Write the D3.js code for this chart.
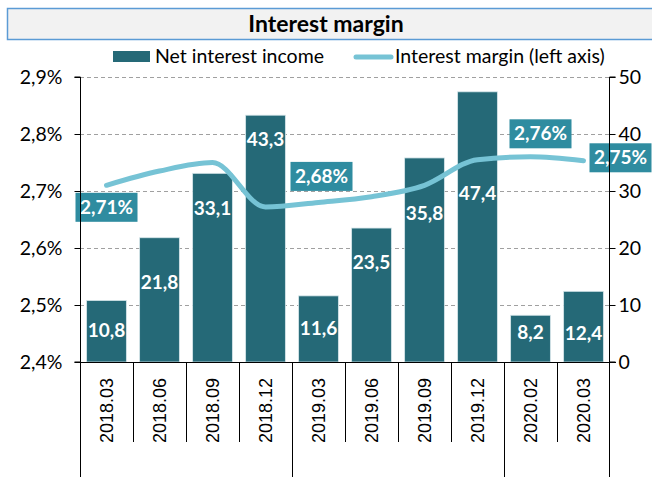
<!DOCTYPE html>
<html>
<head>
<meta charset="utf-8">
<script src="https://cdn.jsdelivr.net/npm/d3@7"></script>
<style>
  body { margin: 0; background: #fff; }
  svg { display: block; font-family: Lato, "Open Sans", sans-serif; }
</style>
</head>
<body>
<svg id="chart" width="652" height="477"></svg>
<script>
const categories = ["2018.03", "2018.06", "2018.09", "2018.12", "2019.03", "2019.06", "2019.09", "2019.12", "2020.02", "2020.03"];
const netInterestIncome = [10.8, 21.8, 33.1, 43.3, 11.6, 23.5, 35.8, 47.4, 8.2, 12.4];
const interestMargin = [2.71, 2.735, 2.75, 2.672, 2.68, 2.69, 2.71, 2.755, 2.76, 2.753];
const marginLabelled = [0, 4, 8, 9];
const leftTicks = [2.4, 2.5, 2.6, 2.7, 2.8, 2.9];
const rightTicks = [0, 10, 20, 30, 40, 50];

const barColor = "#256977";
const lineColor = "#76c3d5";
const boxColor = "#2f8ca0";

const svg = d3.select("#chart");
const fmt = v => d3.format(".2f")(v).replace(".", ",");
const fmt1 = v => d3.format(".1f")(v).replace(".", ",");

const plotLeft = 80, plotRight = 610, plotTop = 77, plotBottom = 362;

const x = d3.scaleBand().domain(categories).range([plotLeft, plotRight])
  .paddingInner(0.25).paddingOuter(0.125);
const yL = d3.scaleLinear().domain([2.4, 2.9]).range([plotBottom, plotTop]);
const yR = d3.scaleLinear().domain([0, 50]).range([plotBottom, plotTop]);

// title box
svg.append("rect")
  .attr("x", 7.5).attr("y", 8.5).attr("width", 660).attr("height", 31)
  .style("fill", "#f2f2f2").style("stroke", "#5b9bd5").style("stroke-width", 1.5);
svg.append("text")
  .text("Interest margin")
  .attr("x", 326).attr("y", 32)
  .attr("text-anchor", "middle")
  .style("font-size", "23px").style("font-weight", "bold").style("fill", "#000");

// legend
const legend = svg.append("g");
legend.append("rect").attr("x", 113).attr("y", 51).attr("width", 37).attr("height", 11)
  .style("fill", barColor);
legend.append("text").text("Net interest income")
  .attr("x", 155).attr("y", 63).style("font-size", "19.5px").style("fill", "#000");
legend.append("line").attr("x1", 356).attr("x2", 391).attr("y1", 57).attr("y2", 57)
  .style("stroke", lineColor).style("stroke-width", 5).style("stroke-linecap", "round");
legend.append("text").text("Interest margin (left axis)")
  .attr("x", 395).attr("y", 63).style("font-size", "19.5px").style("fill", "#000");

// gridlines
svg.append("g").selectAll("line")
  .data(leftTicks.filter(t => t > 2.4))
  .join("line")
  .attr("x1", plotLeft).attr("x2", plotRight)
  .attr("y1", d => Math.round(yL(d)) + 0.5).attr("y2", d => Math.round(yL(d)) + 0.5)
  .style("stroke", "#a0a0a0").style("stroke-dasharray", "4,3");

// bars
svg.append("g").selectAll("rect")
  .data(netInterestIncome)
  .join("rect")
  .attr("x", (d, i) => x(categories[i]))
  .attr("y", d => yR(d))
  .attr("width", x.bandwidth())
  .attr("height", d => plotBottom - yR(d))
  .style("fill", barColor)
  .style("stroke", "#d6e6ea").style("stroke-width", 0.8);

// bar labels (moved by hand in the original, offsets from the bar top)
const barLabelShift = [30, 45, 35, 24, 33, 34, 56, 102, 17, 42];
svg.append("g").selectAll("text")
  .data(netInterestIncome)
  .join("text")
  .text(d => fmt1(d))
  .attr("x", (d, i) => x(categories[i]) + x.bandwidth() / 2)
  .attr("y", (d, i) => yR(d) + barLabelShift[i] + 6.5)
  .attr("text-anchor", "middle")
  .style("fill", "#fff").style("font-size", "19px").style("font-weight", "bold");

// margin line
const line = d3.line()
  .x((d, i) => x(categories[i]) + x.bandwidth() / 2)
  .y(d => yL(d))
  .curve(d3.curveMonotoneX);
svg.append("path")
  .datum(interestMargin)
  .attr("d", line)
  .style("fill", "none").style("stroke", lineColor)
  .style("stroke-width", 5).style("stroke-linecap", "round").style("stroke-linejoin", "round");

// margin labels
const boxShift = { 0: [0, 22], 4: [3, -26], 8: [10, -23], 9: [37, -3] };
marginLabelled.forEach(i => {
  const cx = x(categories[i]) + x.bandwidth() / 2 + boxShift[i][0];
  const cy = yL(interestMargin[i]) + boxShift[i][1];
  const g = svg.append("g").attr("transform", "translate(" + cx + "," + cy + ")");
  g.append("rect").attr("x", -31).attr("y", -14.5).attr("width", 62).attr("height", 29)
    .style("fill", boxColor);
  g.append("text").text(fmt(interestMargin[i]) + "%")
    .attr("y", 6.5).attr("text-anchor", "middle")
    .style("fill", "#fff").style("font-size", "19px").style("font-weight", "bold");
});

// left axis
const axL = svg.append("g").attr("transform", "translate(" + (plotLeft + 0.5) + ",0)")
  .call(d3.axisLeft(yL).tickValues(leftTicks).tickSize(6).tickPadding(12)
    .tickFormat(d => d3.format(".1f")(d).replace(".", ",") + "%"));
axL.selectAll("text").style("font-size", "19.5px").style("font-family", "Lato, sans-serif").style("fill", "#000");
axL.select(".domain").attr("d", "M-6," + plotTop + "H0V" + plotBottom + "H-6");

// right axis
const axR = svg.append("g").attr("transform", "translate(" + (plotRight - 0.5) + ",0)")
  .call(d3.axisRight(yR).tickValues(rightTicks).tickSize(6).tickPadding(3));
axR.selectAll("text").style("font-size", "19.5px").style("font-family", "Lato, sans-serif").style("fill", "#000");
axR.select(".domain").attr("d", "M6," + plotTop + "H0V" + plotBottom + "H6");

// bottom axis with two level categories
const xa = svg.append("g");
xa.append("line").attr("x1", plotLeft).attr("x2", plotRight + 6)
  .attr("y1", plotBottom + 0.5).attr("y2", plotBottom + 0.5).style("stroke", "#000");
const edge = c => x(c) - x.step() * x.paddingInner() / 2;
categories.forEach((c, i) => {
  if (i === 0) return;
  const bx = Math.round(edge(c)) + 0.5;
  const groupEdge = c.slice(0, 4) !== categories[i - 1].slice(0, 4);
  xa.append("line").attr("x1", bx).attr("x2", bx)
    .attr("y1", plotBottom).attr("y2", groupEdge ? 477 : 442).style("stroke", "#000");
});
[plotLeft + 0.5, plotRight - 0.5].forEach(bx => {
  xa.append("line").attr("x1", bx).attr("x2", bx)
    .attr("y1", plotBottom).attr("y2", 477).style("stroke", "#000");
});
xa.selectAll("text.cat")
  .data(categories)
  .join("text")
  .attr("class", "cat")
  .text(d => d)
  .attr("transform", d => "translate(" + (x(d) + x.bandwidth() / 2 + 6.5) + ",378) rotate(-90)")
  .attr("text-anchor", "end")
  .style("font-family", "'Liberation Sans', Arial, sans-serif")
  .style("font-size", "18px").style("fill", "#000");
</script>
</body>
</html>
